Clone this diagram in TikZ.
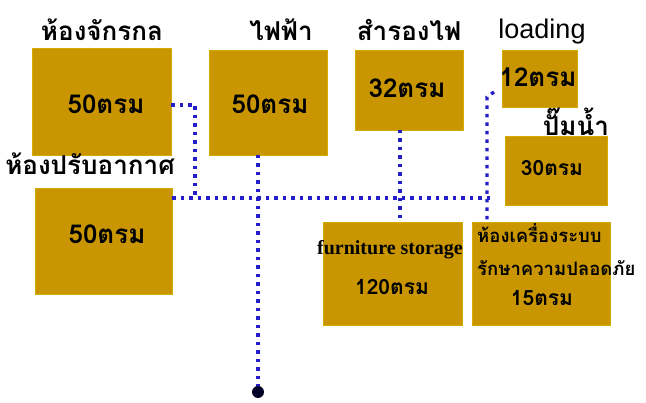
\documentclass[tikz,border=0pt]{standalone}
\usepackage{fontspec}
\newfontfamily\thai[Script=Thai]{Loma}
\setmainfont{Liberation Serif}
\setsansfont{Liberation Sans}
\definecolor{boxfill}{RGB}{201,150,2}
\definecolor{dotblue}{RGB}{35,30,200}
\begin{document}
\begin{tikzpicture}[x=1pt,y=-1pt,
  room/.style={draw=boxfill!80!yellow,line width=0.8pt,fill=boxfill,inner sep=0pt,outer sep=0pt},
  toplabel/.style={inner sep=0pt,font=\thai\bfseries\fontsize{26}{30}\selectfont},
  area/.style={inner sep=0pt,font=\thai\bfseries\fontsize{26}{30}\selectfont},
  smallarea/.style={inner sep=0pt,font=\thai\bfseries\fontsize{21}{25}\selectfont},
  tinyarea/.style={inner sep=0pt,font=\thai\bfseries\fontsize{18.5}{22}\selectfont},
  link/.style={draw=dotblue,line width=3.4pt,dash pattern=on 3.5pt off 5pt}]
\useasboundingbox (0,0) rectangle (646,403);
% rooms
\node[room,minimum width=139pt,minimum height=107pt] (r1) at (101.5,101.5) {};
\node[room,minimum width=118pt,minimum height=105pt] (r2) at (268,102.5) {};
\node[room,minimum width=108pt,minimum height=80pt] (r3) at (409,90) {};
\node[room,minimum width=75pt,minimum height=57pt] (r4) at (539.5,78.5) {};
\node[room,minimum width=102pt,minimum height=69pt] (r5) at (556,170.5) {};
\node[room,minimum width=137pt,minimum height=106pt] (r6) at (103.5,241) {};
\node[room,minimum width=139pt,minimum height=103pt] (r7) at (392.5,273.5) {};
\node[room,minimum width=138pt,minimum height=103pt] (r8) at (541,273.5) {};
% labels
\node[toplabel] (l1) at (102,30) {ห้องจักรกล};
\node[toplabel] (l2) at (281,30) {ไฟฟ้า};
\node[toplabel] (l3) at (409,30) {สำรองไฟ};
\node[inner sep=0pt,font=\sffamily\fontsize{27}{30}\selectfont] (l4) at (542,32) {loading};
\node[toplabel] (l5) at (576,122) {ปั๊มน้ำ};
\node[toplabel] (l6) at (90,164) {ห้องปรับอากาศ};
% areas
\node[area] (a1) at (106,104) {50ตรม};
\node[area] (a2) at (270,104) {50ตรม};
\node[area] (a3) at (407,88) {32ตรม};
\node[area] (a4) at (538,77) {12ตรม};
\node[smallarea] (a5) at (552,168) {30ตรม};
\node[area] (a6) at (107,234) {50ตรม};
\node[inner sep=0pt,font=\rmfamily\bfseries\fontsize{20}{24}\selectfont] (a7) at (390,250) {furniture storage};
\node[smallarea] (a7b) at (392,287) {120ตรม};
\node[tinyarea,anchor=west] (a8) at (477,233) {ห้องเครื่องระบบ};
\node[tinyarea,anchor=west] (a8b) at (477,268) {รักษาความปลอดภัย};
\node[smallarea] (a8c) at (542,298) {15ตรม};
% connectors
\coordinate (c1) at (195,105);
\coordinate (c2) at (195,198);
\coordinate (hend) at (491,198);
\coordinate (pole) at (258,392);
\coordinate (t4) at (494,92);
\draw[link] (r1.east |- 0,105) -- (c1) -- (c2);
\draw[link] (r6.east |- 0,198) -- (hend);
\draw[link] (r2.south -| pole) -- (pole);
\draw[link] (r3.south -| 400,0) -- (r7.north -| 400,0);
\draw[link] (t4) -- (487,97) -- (r8.north -| 487,0);
\fill[black!85!blue] (pole) circle (6pt);
\end{tikzpicture}
\end{document}
